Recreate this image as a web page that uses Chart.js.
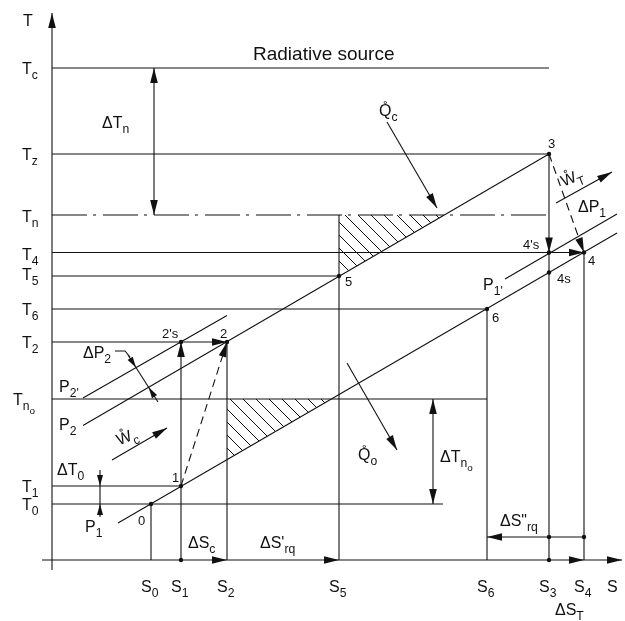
<!DOCTYPE html>
<html><head><meta charset="utf-8">
<script src="https://cdn.jsdelivr.net/npm/chart.js@4.4.1/dist/chart.umd.min.js"></script>
<style>html,body{margin:0;padding:0;background:#fff}canvas{display:block}</style>
</head><body>
<canvas id="c" width="625" height="621"></canvas>
<script>
// ---------------- DATA (S = entropy units, T = temperature units) ----------------
const levelLabels = ['T_c','T_z','T_n','T_4','T_5','T_6','T_2','T_n_o','T_1','T_0'];
const levelValues = [98.4, 81.2, 69.0, 61.5, 56.8, 50.2, 43.6, 32.2, 14.8, 11.2];
const levelEnds   = [99.4, 99.4, 99.4, 106.4, 57.4, 87.0, 35.0, 87.0, 25.8, 78.2];

const entropyLabels = ['S_0','S_1','S_2','S_5','S_6','S_3','S_4'];
const entropyValues = [19.8, 25.8, 35.0, 57.4, 87.0, 99.4, 106.4];
const entropyTops   = [11.2, 43.6, 43.6, 69.0, 50.2, 81.2, 61.5];

const stateLabels = ['0','1','2',"2's",'3','4',"4's",'4s','5','6'];
const stateS = [19.8, 25.8, 35.0, 25.8, 99.4, 106.4, 99.4, 99.4, 57.4, 87.0];
const stateT = [11.2, 14.8, 43.6, 43.6, 81.2, 61.5, 61.5, 57.5, 56.8, 50.2];

const markerS = [25.8, 99.4, 99.4, 106.4];
const markerT = [0, 0, 4.6, 4.6];

// isobars
const isobarP1S  = [13.2, 113.0];  const isobarP1T  = [7.4, 65.4];
const isobarP1pS = [90.6, 113.0];  const isobarP1pT = [56.2, 69.2];
const isobarP2S  = [6.2, 99.4];    const isobarP2T  = [26.9, 81.2];
const isobarP2pS = [6.2, 35.0];    const isobarP2pT = [32.4, 48.9];

// real processes (dashed)
const compressionS = [25.8, 35.0];  const compressionT = [14.8, 43.6];
const expansionS   = [99.4, 106.4]; const expansionT   = [81.2, 61.5];

// hatched exergy-loss areas
const hatchUpperS = [57.4, 78.5, 57.4, 57.4]; const hatchUpperT = [69.0, 69.0, 56.8, 69.0];
const hatchLowerS = [35.0, 55.9, 35.0, 35.0]; const hatchLowerT = [32.2, 32.2, 20.1, 32.2];

// annotation arrows (shafts)
const arrowFromS = [20.4, 67.0, 100.8, 12.0, 59.0, 76.2, 9.6, 15.2, 106.4];
const arrowFromT = [98.4, 87.6, 71.4, 20.0, 39.4, 32.2, 18.0, 41.0, 4.6];
const arrowToS   = [20.4, 77.0, 112.0, 23.0, 69.0, 76.2, 9.6, 21.2, 87.0];
const arrowToT   = [69.0, 70.4, 77.6, 26.4, 22.0, 11.2, 8.6, 31.6, 4.6];
const leaderS = [12.6, 14.6, 15.6]; const leaderT = [41.8, 41.8, 40.6];

// arrowheads: tip and a point on the tail side
const headTipS  = [0, 114, 35, 57.4, 106.4, 25.8, 35, 35, 99.4, 106.4, 106.4, 20.4, 20.4, 77, 112, 23, 69, 76.2, 76.2, 87, 9.6, 9.6, 16.81, 19.32];
const headTipT  = [109.4, 0, 0, 0, 0, 43.6, 43.6, 43.6, 61.5, 61.5, 61.5, 98.4, 69, 70.4, 77.6, 26.4, 22, 32.2, 11.2, 4.6, 14.8, 11.2, 38.48, 34.55];
const headTailS = [0, 100, 25.8, 40, 99.4, 25.8, 25.8, 25.8, 99.4, 99.4, 99.4, 20.4, 20.4, 67, 100.8, 12, 59, 76.2, 76.2, 99.4, 9.6, 9.6, 15.2, 21.2];
const headTailT = [100, 0, 0, 0, 0, 30, 43.6, 14.8, 81.2, 61.5, 81.2, 69, 98.4, 87.6, 71.4, 20, 39.4, 11.2, 32.2, 4.6, 18, 8.6, 41, 31.6];
const headSmall = [0,0,0,0,0,0,0,0,0,0,0,0,0,0,0,0,0,0,0,0,1,1,1,1];

// free text labels
const textLabels = ['T','Radiative source','ΔT_n','Q\u030A_c','ΔP_1','ΔP_2',"P_2'",'P_2','ΔT_0','P_1','Q\u030A_o','ΔT_n_o','ΔS_c',"ΔS'_rq",'ΔS"_rq',"P_1'",'ΔS_T','S'];
const textS = [-5.8, 40.2, 10.0, 65.4, 105.2, 6.2, 1.4, 1.4, 1.0, 6.6, 61.2, 77.6, 27.2, 41.6, 89.6, 86.2, 100.6, 111.0];
const textT = [106.8, 100.0, 86.4, 88.8, 69.6, 40.4, 33.6, 26.0, 17.0, 5.6, 20.0, 19.6, 2.4, 2.4, 6.8, 54.0, -11.0, -6.4];
const workLabels = ['W\u030A_c','W\u030A_T'];
const workS = [15.0, 104.0];
const workT = [24.6, 76.4];

// ---------------- STYLE ----------------
const INK = '#111';
const FONT = '"Liberation Sans", Arial, Helvetica, sans-serif';
const stateLabelOffsets = [[-13,21],[-9,-4],[-7,-4],[-19,-4],[-1,-6],[4,12],[-26,-4],[8,10],[6,10],[5,13]];
const levelLabelDy = [6,6,7,7,3.5,6,6,6,6,6];

const cv = document.getElementById('c');
const ctx0 = cv.getContext('2d');
const tile = document.createElement('canvas');
tile.width = 13; tile.height = 13;
{
  const g = tile.getContext('2d');
  g.strokeStyle = INK; g.lineWidth = 1;
  g.beginPath();
  g.moveTo(-1,-1); g.lineTo(14,14);
  g.moveTo(-1,12); g.lineTo(1,14);
  g.moveTo(12,-1); g.lineTo(14,1);
  g.stroke();
}
const hatch = ctx0.createPattern(tile, 'repeat');

const ds = [];
function seg(xs, ys, extra) {
  ds.push(Object.assign({
    data: xs.map((x, i) => ({x: x, y: ys[i]})),
    borderColor: INK, borderWidth: 1.1, pointRadius: 0, fill: false, tension: 0
  }, extra || {}));
}
// hatched areas first
seg(hatchUpperS, hatchUpperT, {fill: 'shape', backgroundColor: hatch, borderWidth: 0});
seg(hatchLowerS, hatchLowerT, {fill: 'shape', backgroundColor: hatch, borderWidth: 0});
// axes
seg([-2, 114], [0, 0]);
seg([0, 0], [-2, 109.4]);
// temperature levels
levelValues.forEach((t, i) => seg([0, levelEnds[i]], [t, t], i === 2 ? {borderDash: [35, 6, 3, 7]} : {}));
// entropy verticals
entropyValues.forEach((s, i) => seg([s, s], [0, entropyTops[i]]));
// isobars
seg(isobarP1S, isobarP1T); seg(isobarP1pS, isobarP1pT);
seg(isobarP2S, isobarP2T); seg(isobarP2pS, isobarP2pT);
// real processes
seg(compressionS, compressionT, {borderDash: [8, 5]});
seg(expansionS, expansionT, {borderDash: [8, 5]});
// arrow shafts
arrowFromS.forEach((s, i) => seg([s, arrowToS[i]], [arrowFromT[i], arrowToT[i]]));
seg(leaderS, leaderT);
// dots
ds.push({data: stateS.map((s, i) => ({x: s, y: stateT[i]})).concat(markerS.map((s, i) => ({x: s, y: markerT[i]}))),
  showLine: false, pointRadius: 2.2, pointBackgroundColor: INK, pointBorderWidth: 0, borderColor: INK});

function rich(ctx, markup, x, y, size, align) {
  const parts = markup.split('_');
  const sizes = [size, size * 0.76, size * 0.62];
  const offs = [0, size * 0.32, size * 0.58];
  const ws = parts.map((p, i) => { ctx.font = sizes[i] + 'px ' + FONT; return ctx.measureText(p).width; });
  const total = ws.reduce((a, b) => a + b, 0);
  let cx = align === 'center' ? x - total / 2 : x;
  parts.forEach((p, i) => { ctx.font = sizes[i] + 'px ' + FONT; ctx.fillText(p, cx, y + offs[i]); cx += ws[i]; });
}

const annot = {
  id: 'annot',
  afterDatasetsDraw(chart) {
    const ctx = chart.ctx, xs = chart.scales.x, ys = chart.scales.y;
    const X = v => xs.getPixelForValue(v), Y = v => ys.getPixelForValue(v);
    ctx.save();
    ctx.fillStyle = INK;
    // arrowheads
    headTipS.forEach((s, i) => {
      const tx = X(s), ty = Y(headTipT[i]);
      const bx = X(headTailS[i]), by = Y(headTailT[i]);
      let ux = tx - bx, uy = ty - by; const d = Math.hypot(ux, uy); ux /= d; uy /= d;
      const L = headSmall[i] ? 11 : 15, W = headSmall[i] ? 3 : 3.8;
      const px = tx - ux * L, py = ty - uy * L;
      ctx.beginPath();
      ctx.moveTo(tx, ty);
      ctx.lineTo(px - uy * W, py + ux * W);
      ctx.lineTo(px + uy * W, py - ux * W);
      ctx.closePath(); ctx.fill();
    });
    ctx.textBaseline = 'alphabetic';
    // temperature level labels
    levelLabels.forEach((lab, i) => {
      const x = i === 7 ? X(0) - 39 : X(0) - 30;
      rich(ctx, lab, x, Y(levelValues[i]) + levelLabelDy[i], 16, 'left');
    });
    // entropy labels
    entropyLabels.forEach((lab, i) => rich(ctx, lab, X(entropyValues[i]) - 10, Y(0) + 32, 16, 'left'));
    // state labels
    stateLabels.forEach((lab, i) => rich(ctx, lab, X(stateS[i]) + stateLabelOffsets[i][0], Y(stateT[i]) + stateLabelOffsets[i][1], 13, 'left'));
    // free text
    textLabels.forEach((lab, i) => rich(ctx, lab, X(textS[i]), Y(textT[i]), i === 1 ? 19 : 16, 'left'));
    // tilted work labels
    workLabels.forEach((lab, i) => {
      ctx.save();
      ctx.translate(X(workS[i]), Y(workT[i]));
      ctx.rotate(-22 * Math.PI / 180);
      rich(ctx, lab, 0, 5, 16, 'center');
      ctx.restore();
    });
    ctx.restore();
  }
};

new Chart(ctx0, {
  type: 'line',
  data: {datasets: ds},
  options: {
    responsive: false, animation: false, events: [],
    layout: {padding: 0, autoPadding: false},
    plugins: {legend: {display: false}, tooltip: {enabled: false}, title: {display: false}},
    scales: {
      x: {type: 'linear', min: -10.4, max: 114.6, display: false},
      y: {type: 'linear', min: -12.2, max: 112, display: false}
    }
  },
  plugins: [annot]
});
</script>
</body></html>
